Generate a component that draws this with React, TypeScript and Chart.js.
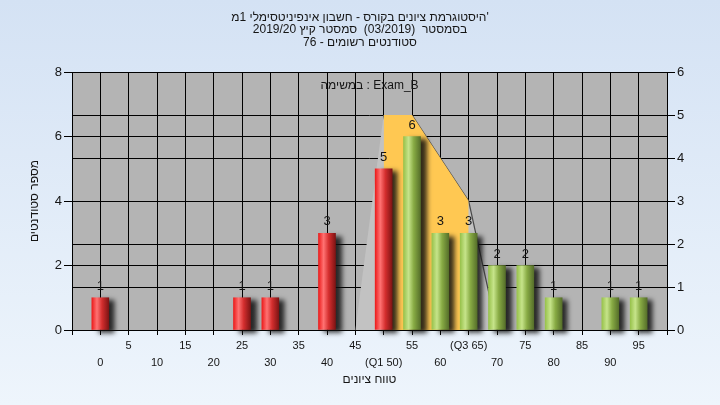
import React, { useEffect, useRef } from 'react';
import { Chart, registerables } from 'chart.js';

Chart.register(...registerables);

// ---- data ----
const categories = [0, 5, 10, 15, 20, 25, 30, 35, 40, 45, 50, 55, 60, 65, 70, 75, 80, 85, 90, 95];
const studentCounts = [1, 0, 0, 0, 0, 1, 1, 0, 3, 0, 5, 6, 3, 3, 2, 2, 1, 0, 1, 1];
const tickLabels = ['0', '5', '10', '15', '20', '25', '30', '35', '40', '45', '(Q1 50)', '55', '60', '(Q3 65)', '70', '75', '80', '85', '90', '95'];
const rangeScores = [45, 50, 55, 60, 65, 70];
const rangeValues = [0, 5, 5, 4, 3, 0];
const iqrScores = [50, 55, 60, 65];
const iqrValues = [5, 5, 4, 3];
const passScore = 55;
const leftTicks = [0, 2, 4, 6, 8];
const rightTicks = [0, 1, 2, 3, 4, 5, 6];

const titleLines = [
  "היסטוגרמת ציונים בקורס - חשבון אינפיניטסימלי 1מ'",
  'בסמסטר  (03/2019)  סמסטר קיץ 2019/20',
  'סטודנטים רשומים - 76',
];
const xTitle = 'טווח ציונים';
const yTitle = 'מספר סטודנטים';
const noteText = 'במשימה : Exam_B';

const FONT = "'Liberation Sans', 'DejaVu Sans', Arial, sans-serif";
const TEXT = '#151515';

function barGradient(chart: any, index: number) {
  const xs = chart.scales && chart.scales.x;
  const pass = categories[index] >= passScore;
  const fallback = pass ? '#9cc850' : '#e82020';
  if (!xs) return fallback;
  const cx = xs.getPixelForValue(categories[index]);
  if (!Number.isFinite(cx)) return fallback;
  const g = chart.ctx.createLinearGradient(cx - 8.5, 0, cx + 8.5, 0);
  if (pass) {
    g.addColorStop(0, '#98c24c');
    g.addColorStop(0.3, '#c6e48a');
    g.addColorStop(0.6, '#88ab44');
    g.addColorStop(1, '#566f2a');
  } else {
    g.addColorStop(0, '#ec1c1c');
    g.addColorStop(0.3, '#ff7272');
    g.addColorStop(0.6, '#d42e2e');
    g.addColorStop(1, '#7e1414');
  }
  return g;
}

const plotBgPlugin = {
  id: 'plotBg',
  beforeDraw(chart: any) {
    const { ctx, chartArea: a } = chart;
    ctx.save();
    ctx.fillStyle = '#b4b4b4';
    ctx.fillRect(a.left, a.top, a.right - a.left, a.bottom - a.top);
    ctx.restore();
  },
};

const shadowPlugin = {
  id: 'barShadow',
  beforeDatasetDraw(chart: any, args: any) {
    if (args.meta.type === 'bar') {
      const ctx = chart.ctx;
      ctx.save();
      ctx.shadowColor = 'rgba(15,15,15,0.85)';
      ctx.shadowOffsetX = 6;
      ctx.shadowOffsetY = 3;
      ctx.shadowBlur = 5;
    }
  },
  afterDatasetDraw(chart: any, args: any) {
    if (args.meta.type === 'bar') chart.ctx.restore();
  },
};

const labelPlugin = {
  id: 'valueLabels',
  afterDatasetsDraw(chart: any) {
    const ctx = chart.ctx;
    chart.data.datasets.forEach((ds: any, di: number) => {
      const meta = chart.getDatasetMeta(di);
      if (meta.type !== 'bar') return;
      meta.data.forEach((el: any, i: number) => {
        const v = studentCounts[i];
        if (!v) return;
        ctx.save();
        ctx.font = `13px ${FONT}`;
        ctx.fillStyle = TEXT;
        ctx.textAlign = 'center';
        ctx.textBaseline = 'bottom';
        ctx.fillText(String(v), el.x, el.y - 5);
        ctx.restore();
      });
    });
    const a = chart.chartArea;
    ctx.save();
    ctx.font = `12px ${FONT}`;
    ctx.fillStyle = TEXT;
    ctx.textAlign = 'center';
    ctx.textBaseline = 'middle';
    ctx.fillText(noteText, (a.left + a.right) / 2, a.top + 14);
    ctx.restore();
  },
};

export default function App() {
  const ref = useRef<HTMLCanvasElement>(null);
  useEffect(() => {
    document.body.style.margin = '0';
    const canvas = ref.current;
    if (!canvas) return;
    Chart.defaults.font.family = FONT;
    const chart = new Chart(canvas, {
      type: 'bar',
      data: {
        datasets: [
          {
            type: 'bar',
            label: 'students',
            data: categories.map((c, i) => ({ x: c, y: studentCounts[i] > 0 ? studentCounts[i] : null })),
            xAxisID: 'x',
            yAxisID: 'y',
            barThickness: 17,
            backgroundColor: (c: any) => barGradient(c.chart, c.dataIndex ?? 0),
            borderWidth: 0,
            clip: false as any,
            order: 0,
          } as any,
          {
            type: 'line',
            label: 'iqr',
            data: iqrScores.map((s, i) => ({ x: s, y: iqrValues[i] })),
            xAxisID: 'x',
            yAxisID: 'y1',
            fill: 'origin',
            backgroundColor: '#ffc852',
            borderWidth: 0,
            borderColor: 'rgba(0,0,0,0)',
            pointRadius: 0,
            tension: 0,
            order: 1,
          } as any,
          {
            type: 'line',
            label: 'range',
            data: rangeScores.map((s, i) => ({ x: s, y: rangeValues[i] })),
            xAxisID: 'x',
            yAxisID: 'y1',
            fill: 'origin',
            backgroundColor: '#c2c2c2',
            borderWidth: 1.2,
            borderColor: '#4a4a4a',
            segment: {
              borderColor: (c: any) => (c.p0DataIndex >= 2 ? '#4a4a4a' : 'rgba(0,0,0,0)'),
            },
            pointRadius: 0,
            tension: 0,
            order: 2,
          } as any,
        ],
      },
      options: {
        responsive: false,
        animation: false,
        devicePixelRatio: 1,
        layout: { padding: 0 },
        plugins: {
          legend: { display: false },
          tooltip: { enabled: false },
          title: {
            display: true,
            text: titleLines,
            color: TEXT,
            font: { size: 12, weight: 'normal', lineHeight: '12.5px' } as any,
            padding: { top: 11.25, bottom: 23.25 },
          },
        },
        scales: {
          x: {
            type: 'linear',
            position: 'bottom',
            min: -5,
            max: 100,
            offset: false,
            afterBuildTicks: (s: any) => {
              s.ticks = [-5, ...categories, 100].map((v) => ({ value: v }));
            },
            ticks: {
              autoSkip: false,
              maxRotation: 0,
              minRotation: 0,
              padding: 2,
              color: TEXT,
              font: { size: 11, lineHeight: '17px' } as any,
              callback: (v: any) => {
                const i = categories.indexOf(Number(v));
                if (i < 0) return '';
                return i % 2 === 0 ? ['', tickLabels[i]] : [tickLabels[i], ''];
              },
            },
            grid: { color: '#000', lineWidth: 1, tickLength: 5, drawTicks: true, offset: false },
            border: { color: '#000', width: 1 },
            title: { display: true, text: xTitle, color: TEXT, font: { size: 12 }, padding: { top: 0, bottom: 18 } },
            afterFit: (s: any) => {
              s.height = 75;
            },
          },
          y: {
            type: 'linear',
            position: 'left',
            min: 0,
            max: 8,
            afterBuildTicks: (s: any) => {
              s.ticks = leftTicks.map((v) => ({ value: v }));
            },
            ticks: { color: TEXT, font: { size: 13 }, padding: 2 },
            grid: { color: '#000', lineWidth: 1, tickLength: 8 },
            border: { color: '#000', width: 1 },
            title: { display: true, text: yTitle, color: TEXT, font: { size: 12 }, padding: { top: 27, bottom: 0 } },
            afterFit: (s: any) => {
              s.width = 72;
            },
          },
          y1: {
            type: 'linear',
            position: 'right',
            min: 0,
            max: 6,
            afterBuildTicks: (s: any) => {
              s.ticks = rightTicks.map((v) => ({ value: v }));
            },
            ticks: { color: TEXT, font: { size: 13 }, padding: 2 },
            grid: { color: '#000', lineWidth: 1, tickLength: 8 },
            border: { color: '#000', width: 1 },
            afterFit: (s: any) => {
              s.width = 53;
            },
          },
        },
      } as any,
      plugins: [plotBgPlugin, shadowPlugin, labelPlugin],
    });
    return () => chart.destroy();
  }, []);

  return (
    <div
      style={{
        width: 720,
        height: 405,
        background: 'linear-gradient(to bottom, #d4e2f4 0%, #eef5fc 100%)',
      }}
    >
      <canvas ref={ref} width={720} height={405} style={{ display: 'block' }} />
    </div>
  );
}
